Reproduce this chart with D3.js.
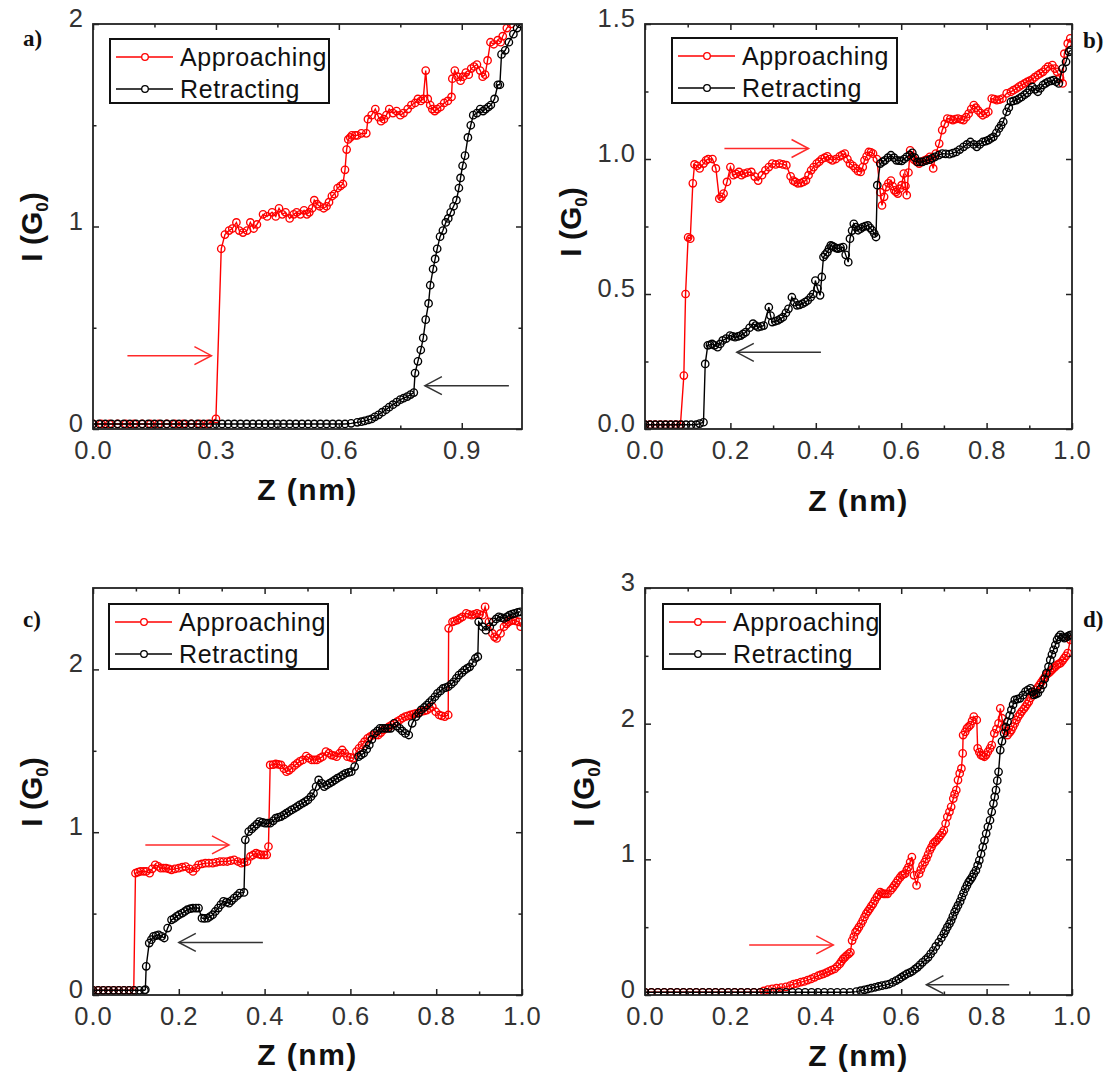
<!DOCTYPE html>
<html>
<head>
<meta charset="utf-8">
<script src="https://cdn.jsdelivr.net/npm/d3@7"></script>
<style>
  body { margin: 0; background: #fff; }
  svg text { font-family: "Liberation Sans", Arial, sans-serif; }
  svg text.panel-letter { font-family: "Liberation Serif", "Times New Roman", serif; }
</style>
</head>
<body>
<svg id="fig" width="1115" height="1079"></svg>
<script>
// ---------------- data: Z (nm), I (G0) ----------------
// panel a
const aApproach = [[0,0.025],[0.02,0.025],[0.04,0.025],[0.06,0.025],[0.08,0.025],[0.10,0.025],[0.12,0.025],[0.14,0.025],[0.16,0.025],[0.18,0.025],[0.20,0.025],[0.22,0.025],[0.24,0.025],[0.26,0.025],[0.28,0.025],[0.30,0.05],[0.313,0.89],[0.322,0.96],[0.332,0.98],[0.34,0.99],[0.35,1.02],[0.357,0.98],[0.366,0.97],[0.376,0.98],[0.384,1.02],[0.392,0.99],[0.40,1.01],[0.415,1.06],[0.425,1.05],[0.437,1.07],[0.446,1.05],[0.454,1.09],[0.462,1.06],[0.47,1.07],[0.48,1.04],[0.49,1.06],[0.497,1.07],[0.506,1.06],[0.515,1.08],[0.522,1.06],[0.528,1.07],[0.535,1.09],[0.54,1.13],[0.547,1.11],[0.553,1.10],[0.563,1.09],[0.57,1.10],[0.576,1.12],[0.583,1.15],[0.589,1.16],[0.597,1.19],[0.604,1.20],[0.61,1.21],[0.615,1.28],[0.619,1.38],[0.623,1.43],[0.628,1.44],[0.632,1.45],[0.64,1.45],[0.645,1.45],[0.655,1.46],[0.667,1.46],[0.671,1.53],[0.68,1.55],[0.689,1.58],[0.697,1.54],[0.703,1.52],[0.71,1.53],[0.716,1.55],[0.723,1.58],[0.732,1.56],[0.741,1.57],[0.75,1.55],[0.758,1.56],[0.768,1.58],[0.777,1.60],[0.786,1.61],[0.793,1.63],[0.80,1.62],[0.806,1.63],[0.812,1.77],[0.817,1.63],[0.823,1.60],[0.828,1.58],[0.834,1.57],[0.84,1.58],[0.848,1.59],[0.857,1.61],[0.866,1.62],[0.875,1.64],[0.877,1.73],[0.883,1.77],[0.89,1.74],[0.897,1.72],[0.903,1.74],[0.91,1.76],[0.917,1.75],[0.923,1.78],[0.93,1.79],[0.937,1.80],[0.945,1.77],[0.951,1.74],[0.957,1.75],[0.963,1.82],[0.97,1.91],[0.978,1.90],[0.988,1.92],[0.995,1.91],[1.0,1.94],[1.01,1.98],[1.02,2.0]];
const aRetract = [[0,0.025],[0.015,0.025],[0.03,0.025],[0.045,0.025],[0.06,0.025],[0.075,0.025],[0.09,0.025],[0.105,0.025],[0.12,0.025],[0.135,0.025],[0.15,0.025],[0.165,0.025],[0.18,0.025],[0.195,0.025],[0.21,0.025],[0.225,0.025],[0.24,0.025],[0.255,0.025],[0.27,0.025],[0.285,0.025],[0.30,0.025],[0.315,0.025],[0.33,0.025],[0.345,0.025],[0.36,0.025],[0.375,0.025],[0.39,0.025],[0.405,0.025],[0.42,0.025],[0.435,0.025],[0.45,0.025],[0.465,0.025],[0.48,0.025],[0.495,0.025],[0.51,0.025],[0.525,0.025],[0.54,0.025],[0.555,0.025],[0.57,0.025],[0.585,0.025],[0.60,0.025],[0.615,0.025],[0.63,0.028],[0.645,0.033],[0.655,0.036],[0.663,0.04],[0.672,0.045],[0.68,0.05],[0.688,0.06],[0.697,0.07],[0.706,0.083],[0.715,0.095],[0.723,0.108],[0.732,0.12],[0.741,0.133],[0.75,0.145],[0.758,0.152],[0.767,0.16],[0.775,0.17],[0.783,0.18],[0.786,0.276],[0.793,0.334],[0.80,0.39],[0.806,0.45],[0.812,0.54],[0.819,0.62],[0.823,0.71],[0.83,0.79],[0.835,0.84],[0.84,0.89],[0.847,0.95],[0.854,0.98],[0.861,1.02],[0.867,1.04],[0.873,1.07],[0.88,1.10],[0.887,1.13],[0.893,1.19],[0.897,1.24],[0.902,1.30],[0.908,1.35],[0.915,1.44],[0.922,1.50],[0.928,1.55],[0.937,1.56],[0.945,1.58],[0.952,1.57],[0.958,1.58],[0.965,1.59],[0.971,1.60],[0.98,1.63],[0.988,1.70],[0.993,1.70],[0.997,1.85],[1.006,1.87],[1.015,1.91],[1.026,1.95],[1.035,1.98],[1.042,2.0]];

// panel b
const bApproach = [[0,0.016],[0.012,0.016],[0.024,0.016],[0.036,0.016],[0.048,0.016],[0.06,0.016],[0.072,0.016],[0.083,0.016],[0.091,0.198],[0.095,0.50],[0.101,0.71],[0.106,0.705],[0.112,0.91],[0.116,0.98],[0.122,0.975],[0.128,0.965],[0.137,0.983],[0.143,0.995],[0.148,1.0],[0.158,1.0],[0.166,0.965],[0.174,0.853],[0.179,0.86],[0.184,0.872],[0.192,0.915],[0.20,0.97],[0.207,0.94],[0.213,0.945],[0.22,0.952],[0.226,0.94],[0.232,0.946],[0.24,0.95],[0.249,0.952],[0.257,0.935],[0.265,0.92],[0.274,0.94],[0.282,0.958],[0.29,0.97],[0.298,0.983],[0.306,0.98],[0.315,0.983],[0.323,0.98],[0.331,0.977],[0.341,0.936],[0.347,0.92],[0.352,0.915],[0.358,0.91],[0.365,0.911],[0.371,0.915],[0.377,0.921],[0.383,0.94],[0.389,0.958],[0.395,0.97],[0.402,0.983],[0.408,0.99],[0.414,1.0],[0.421,1.005],[0.427,1.01],[0.433,1.0],[0.439,0.995],[0.447,1.0],[0.456,1.01],[0.462,1.015],[0.468,1.02],[0.474,1.0],[0.48,0.983],[0.487,0.975],[0.493,0.965],[0.499,0.955],[0.505,0.952],[0.51,0.97],[0.514,0.995],[0.519,1.01],[0.524,1.026],[0.529,1.025],[0.534,1.02],[0.543,1.0],[0.551,0.877],[0.555,0.828],[0.56,0.86],[0.565,0.896],[0.57,0.91],[0.576,0.92],[0.58,0.9],[0.584,0.884],[0.588,0.878],[0.592,0.872],[0.597,0.89],[0.601,0.903],[0.606,0.946],[0.61,0.9],[0.613,0.866],[0.617,0.95],[0.621,1.032],[0.626,1.01],[0.63,0.998],[0.636,0.99],[0.642,0.983],[0.648,0.99],[0.655,0.995],[0.661,1.0],[0.667,1.008],[0.675,0.965],[0.681,1.02],[0.689,1.057],[0.696,1.107],[0.702,1.13],[0.708,1.15],[0.715,1.148],[0.721,1.144],[0.727,1.148],[0.733,1.15],[0.74,1.147],[0.746,1.144],[0.752,1.155],[0.758,1.168],[0.764,1.185],[0.77,1.20],[0.775,1.19],[0.78,1.18],[0.786,1.17],[0.791,1.162],[0.798,1.168],[0.804,1.175],[0.812,1.224],[0.818,1.222],[0.824,1.218],[0.83,1.22],[0.837,1.224],[0.847,1.243],[0.857,1.249],[0.863,1.255],[0.87,1.261],[0.876,1.268],[0.882,1.274],[0.889,1.28],[0.895,1.286],[0.901,1.29],[0.907,1.295],[0.913,1.303],[0.92,1.311],[0.926,1.317],[0.932,1.323],[0.938,1.333],[0.944,1.342],[0.954,1.348],[0.96,1.335],[0.965,1.323],[0.972,1.3],[0.978,1.28],[0.982,1.39],[0.99,1.428],[0.996,1.447]];
const bRetract = [[0,0.016],[0.012,0.016],[0.024,0.016],[0.036,0.016],[0.048,0.016],[0.06,0.016],[0.072,0.016],[0.084,0.016],[0.096,0.016],[0.108,0.016],[0.12,0.016],[0.128,0.02],[0.137,0.025],[0.141,0.241],[0.147,0.31],[0.152,0.312],[0.157,0.315],[0.163,0.31],[0.17,0.303],[0.176,0.315],[0.182,0.328],[0.19,0.335],[0.199,0.346],[0.205,0.343],[0.211,0.34],[0.218,0.343],[0.224,0.346],[0.23,0.352],[0.236,0.359],[0.245,0.375],[0.253,0.39],[0.259,0.383],[0.265,0.377],[0.272,0.38],[0.278,0.383],[0.29,0.451],[0.294,0.42],[0.298,0.396],[0.305,0.399],[0.311,0.402],[0.317,0.408],[0.323,0.414],[0.33,0.43],[0.336,0.445],[0.344,0.488],[0.35,0.47],[0.356,0.458],[0.362,0.46],[0.369,0.464],[0.375,0.47],[0.381,0.476],[0.388,0.488],[0.394,0.50],[0.399,0.55],[0.404,0.52],[0.41,0.495],[0.414,0.563],[0.418,0.637],[0.422,0.646],[0.427,0.655],[0.431,0.668],[0.435,0.68],[0.439,0.677],[0.443,0.674],[0.448,0.67],[0.452,0.668],[0.458,0.671],[0.464,0.674],[0.47,0.645],[0.476,0.618],[0.48,0.705],[0.485,0.735],[0.489,0.76],[0.494,0.748],[0.499,0.736],[0.505,0.742],[0.51,0.748],[0.516,0.751],[0.522,0.754],[0.527,0.745],[0.532,0.736],[0.537,0.724],[0.541,0.711],[0.544,0.903],[0.551,0.983],[0.557,0.99],[0.562,0.995],[0.569,1.005],[0.576,1.014],[0.583,1.005],[0.589,0.995],[0.595,0.994],[0.601,0.993],[0.607,1.0],[0.613,1.008],[0.62,1.015],[0.626,1.023],[0.632,1.005],[0.638,0.989],[0.644,0.989],[0.65,0.989],[0.658,0.994],[0.667,0.998],[0.673,1.003],[0.679,1.008],[0.688,1.014],[0.696,1.02],[0.704,1.019],[0.713,1.018],[0.721,1.022],[0.729,1.026],[0.737,1.035],[0.746,1.045],[0.754,1.054],[0.762,1.063],[0.77,1.054],[0.777,1.045],[0.784,1.054],[0.791,1.063],[0.798,1.066],[0.804,1.07],[0.81,1.076],[0.816,1.082],[0.823,1.097],[0.829,1.113],[0.834,1.125],[0.839,1.138],[0.847,1.175],[0.852,1.19],[0.857,1.212],[0.863,1.215],[0.87,1.218],[0.876,1.224],[0.882,1.23],[0.889,1.238],[0.895,1.245],[0.901,1.256],[0.907,1.267],[0.914,1.258],[0.92,1.249],[0.926,1.262],[0.932,1.274],[0.938,1.28],[0.944,1.286],[0.951,1.289],[0.957,1.292],[0.963,1.286],[0.969,1.28],[0.978,1.335],[0.986,1.36],[0.993,1.397],[0.997,1.403]];

// panel c
const cApproach = [[0,0.029],[0.012,0.029],[0.024,0.029],[0.036,0.029],[0.048,0.029],[0.06,0.029],[0.072,0.029],[0.084,0.029],[0.095,0.029],[0.099,0.748],[0.105,0.755],[0.111,0.759],[0.118,0.76],[0.124,0.759],[0.132,0.748],[0.138,0.775],[0.145,0.80],[0.152,0.79],[0.158,0.779],[0.164,0.78],[0.17,0.779],[0.177,0.775],[0.183,0.769],[0.191,0.775],[0.2,0.779],[0.208,0.785],[0.216,0.789],[0.225,0.775],[0.233,0.759],[0.24,0.78],[0.246,0.80],[0.254,0.805],[0.262,0.81],[0.27,0.81],[0.279,0.81],[0.287,0.815],[0.296,0.82],[0.304,0.82],[0.313,0.82],[0.321,0.825],[0.329,0.83],[0.338,0.82],[0.346,0.81],[0.352,0.815],[0.359,0.82],[0.367,0.851],[0.373,0.86],[0.38,0.871],[0.386,0.865],[0.392,0.861],[0.399,0.86],[0.405,0.861],[0.409,0.912],[0.413,1.413],[0.42,1.415],[0.426,1.419],[0.432,1.416],[0.438,1.413],[0.445,1.39],[0.451,1.372],[0.457,1.38],[0.463,1.393],[0.47,1.41],[0.476,1.423],[0.482,1.435],[0.489,1.444],[0.497,1.468],[0.503,1.455],[0.51,1.444],[0.516,1.444],[0.522,1.444],[0.529,1.455],[0.535,1.464],[0.543,1.495],[0.55,1.485],[0.556,1.474],[0.562,1.47],[0.568,1.464],[0.575,1.485],[0.581,1.505],[0.587,1.485],[0.593,1.464],[0.6,1.46],[0.606,1.454],[0.614,1.495],[0.62,1.515],[0.627,1.536],[0.633,1.556],[0.64,1.577],[0.646,1.587],[0.652,1.597],[0.659,1.597],[0.665,1.597],[0.671,1.612],[0.677,1.628],[0.684,1.638],[0.69,1.648],[0.696,1.658],[0.702,1.669],[0.709,1.679],[0.715,1.689],[0.721,1.7],[0.728,1.71],[0.734,1.715],[0.74,1.72],[0.747,1.725],[0.753,1.73],[0.759,1.735],[0.765,1.74],[0.772,1.745],[0.778,1.75],[0.785,1.76],[0.791,1.771],[0.799,1.74],[0.807,1.72],[0.813,1.715],[0.82,1.71],[0.828,1.72],[0.829,2.252],[0.838,2.292],[0.843,2.298],[0.849,2.303],[0.855,2.313],[0.861,2.323],[0.87,2.344],[0.876,2.338],[0.883,2.333],[0.889,2.338],[0.895,2.344],[0.901,2.338],[0.908,2.333],[0.914,2.384],[0.923,2.292],[0.931,2.221],[0.936,2.2],[0.941,2.19],[0.95,2.221],[0.958,2.262],[0.964,2.28],[0.969,2.292],[0.974,2.298],[0.979,2.303],[0.985,2.298],[0.992,2.292],[0.997,2.262]];
const cRetract = [[0,0.029],[0.012,0.029],[0.024,0.029],[0.036,0.029],[0.048,0.029],[0.06,0.029],[0.072,0.029],[0.084,0.029],[0.096,0.029],[0.108,0.029],[0.12,0.029],[0.122,0.033],[0.124,0.176],[0.131,0.319],[0.136,0.34],[0.141,0.36],[0.147,0.365],[0.153,0.37],[0.16,0.36],[0.166,0.35],[0.174,0.411],[0.183,0.462],[0.189,0.47],[0.195,0.483],[0.201,0.493],[0.208,0.503],[0.214,0.513],[0.22,0.524],[0.227,0.53],[0.233,0.534],[0.24,0.534],[0.246,0.534],[0.254,0.472],[0.26,0.47],[0.267,0.472],[0.273,0.482],[0.279,0.493],[0.285,0.513],[0.292,0.534],[0.298,0.555],[0.304,0.575],[0.311,0.57],[0.317,0.564],[0.323,0.58],[0.329,0.595],[0.336,0.61],[0.342,0.626],[0.352,0.63],[0.355,0.953],[0.363,1.004],[0.37,1.02],[0.376,1.035],[0.382,1.05],[0.388,1.065],[0.395,1.06],[0.401,1.055],[0.407,1.055],[0.413,1.055],[0.42,1.07],[0.426,1.086],[0.432,1.091],[0.438,1.096],[0.445,1.106],[0.451,1.117],[0.457,1.127],[0.463,1.137],[0.47,1.147],[0.476,1.157],[0.482,1.168],[0.489,1.178],[0.495,1.188],[0.501,1.198],[0.508,1.218],[0.514,1.239],[0.52,1.28],[0.526,1.321],[0.533,1.3],[0.539,1.28],[0.545,1.29],[0.552,1.301],[0.558,1.311],[0.564,1.321],[0.57,1.332],[0.577,1.342],[0.583,1.352],[0.589,1.362],[0.596,1.367],[0.602,1.372],[0.61,1.403],[0.619,1.464],[0.625,1.475],[0.631,1.485],[0.638,1.51],[0.644,1.536],[0.65,1.57],[0.656,1.607],[0.663,1.622],[0.669,1.638],[0.675,1.638],[0.681,1.638],[0.688,1.638],[0.694,1.638],[0.702,1.669],[0.708,1.652],[0.715,1.638],[0.721,1.622],[0.728,1.607],[0.736,1.597],[0.744,1.669],[0.753,1.71],[0.759,1.73],[0.765,1.751],[0.772,1.766],[0.778,1.781],[0.784,1.796],[0.79,1.812],[0.797,1.832],[0.803,1.853],[0.81,1.868],[0.816,1.883],[0.822,1.888],[0.828,1.894],[0.835,1.909],[0.841,1.924],[0.847,1.945],[0.853,1.965],[0.86,1.98],[0.866,1.996],[0.872,2.006],[0.878,2.016],[0.885,2.04],[0.891,2.067],[0.897,2.078],[0.899,2.292],[0.908,2.262],[0.916,2.241],[0.925,2.262],[0.933,2.292],[0.94,2.31],[0.946,2.323],[0.952,2.318],[0.958,2.313],[0.965,2.323],[0.971,2.333],[0.977,2.34],[0.983,2.344],[0.99,2.35],[0.996,2.354]];

// panel d
const dApproach = [[0,0.02],[0.015,0.02],[0.03,0.02],[0.045,0.02],[0.06,0.02],[0.075,0.02],[0.09,0.02],[0.105,0.02],[0.12,0.02],[0.135,0.02],[0.15,0.02],[0.165,0.02],[0.18,0.02],[0.195,0.02],[0.21,0.02],[0.225,0.02],[0.24,0.02],[0.255,0.02],[0.27,0.02],[0.278,0.03],[0.288,0.04],[0.298,0.045],[0.308,0.05],[0.319,0.055],[0.33,0.06],[0.34,0.07],[0.348,0.08],[0.356,0.085],[0.365,0.095],[0.373,0.1],[0.381,0.11],[0.389,0.118],[0.397,0.13],[0.406,0.143],[0.412,0.15],[0.418,0.155],[0.425,0.165],[0.431,0.175],[0.437,0.184],[0.444,0.192],[0.45,0.21],[0.456,0.229],[0.46,0.248],[0.464,0.266],[0.468,0.278],[0.472,0.291],[0.477,0.303],[0.481,0.315],[0.485,0.401],[0.489,0.43],[0.493,0.463],[0.497,0.48],[0.501,0.50],[0.506,0.525],[0.51,0.549],[0.514,0.575],[0.518,0.599],[0.522,0.617],[0.526,0.635],[0.53,0.655],[0.534,0.672],[0.538,0.695],[0.543,0.722],[0.547,0.74],[0.551,0.759],[0.555,0.75],[0.559,0.746],[0.563,0.746],[0.568,0.746],[0.575,0.771],[0.58,0.79],[0.584,0.808],[0.588,0.825],[0.592,0.845],[0.597,0.865],[0.601,0.882],[0.605,0.888],[0.609,0.894],[0.613,0.92],[0.617,0.943],[0.621,0.98],[0.625,1.017],[0.63,0.882],[0.636,0.808],[0.642,0.894],[0.646,0.925],[0.65,0.956],[0.655,0.98],[0.659,1.005],[0.663,1.035],[0.667,1.067],[0.671,1.09],[0.675,1.116],[0.679,1.128],[0.683,1.14],[0.688,1.16],[0.692,1.177],[0.696,1.195],[0.70,1.214],[0.704,1.264],[0.708,1.313],[0.713,1.35],[0.717,1.387],[0.722,1.448],[0.725,1.48],[0.729,1.51],[0.733,1.584],[0.737,1.633],[0.741,1.67],[0.744,1.781],[0.745,1.916],[0.75,1.94],[0.754,1.966],[0.758,1.978],[0.762,1.99],[0.766,2.02],[0.77,2.052],[0.777,2.027],[0.779,1.818],[0.783,1.79],[0.787,1.768],[0.791,1.762],[0.795,1.756],[0.799,1.77],[0.803,1.793],[0.808,1.818],[0.812,1.842],[0.818,1.929],[0.823,1.96],[0.828,2.002],[0.832,2.113],[0.836,2.04],[0.841,1.978],[0.845,1.945],[0.849,1.916],[0.854,1.935],[0.858,1.953],[0.862,1.978],[0.866,2.002],[0.87,2.027],[0.874,2.052],[0.878,2.07],[0.882,2.089],[0.887,2.108],[0.891,2.126],[0.895,2.145],[0.899,2.163],[0.903,2.19],[0.907,2.212],[0.911,2.23],[0.915,2.249],[0.92,2.268],[0.924,2.286],[0.928,2.305],[0.932,2.323],[0.936,2.342],[0.94,2.36],[0.945,2.372],[0.949,2.384],[0.953,2.397],[0.957,2.409],[0.961,2.421],[0.965,2.433],[0.969,2.44],[0.973,2.446],[0.978,2.465],[0.982,2.483],[0.986,2.5],[0.99,2.52],[0.996,2.618]];
const dRetract = [[0,0.02],[0.015,0.02],[0.03,0.02],[0.045,0.02],[0.06,0.02],[0.075,0.02],[0.09,0.02],[0.105,0.02],[0.12,0.02],[0.135,0.02],[0.15,0.02],[0.165,0.02],[0.18,0.02],[0.195,0.02],[0.21,0.02],[0.225,0.02],[0.24,0.02],[0.255,0.02],[0.27,0.02],[0.285,0.02],[0.30,0.02],[0.315,0.02],[0.33,0.02],[0.345,0.02],[0.36,0.02],[0.375,0.02],[0.39,0.02],[0.405,0.02],[0.42,0.02],[0.435,0.02],[0.45,0.02],[0.465,0.02],[0.48,0.02],[0.495,0.025],[0.505,0.032],[0.514,0.038],[0.522,0.044],[0.53,0.05],[0.539,0.057],[0.547,0.063],[0.555,0.069],[0.564,0.075],[0.572,0.081],[0.58,0.093],[0.588,0.106],[0.595,0.118],[0.601,0.131],[0.607,0.143],[0.613,0.155],[0.62,0.165],[0.626,0.175],[0.632,0.19],[0.638,0.204],[0.644,0.222],[0.65,0.241],[0.657,0.26],[0.663,0.278],[0.669,0.303],[0.675,0.328],[0.681,0.358],[0.688,0.389],[0.694,0.42],[0.70,0.451],[0.704,0.475],[0.708,0.50],[0.713,0.525],[0.717,0.549],[0.721,0.58],[0.725,0.611],[0.729,0.635],[0.733,0.66],[0.738,0.69],[0.742,0.722],[0.746,0.752],[0.75,0.783],[0.754,0.808],[0.758,0.833],[0.762,0.85],[0.766,0.869],[0.77,0.894],[0.775,0.919],[0.779,0.955],[0.783,0.993],[0.787,1.04],[0.791,1.091],[0.795,1.14],[0.799,1.19],[0.803,1.24],[0.808,1.288],[0.812,1.35],[0.816,1.411],[0.819,1.46],[0.822,1.51],[0.825,1.58],[0.828,1.645],[0.832,1.805],[0.836,1.87],[0.841,1.929],[0.845,1.975],[0.849,2.015],[0.854,2.06],[0.858,2.101],[0.862,2.14],[0.866,2.175],[0.872,2.18],[0.878,2.187],[0.885,2.21],[0.891,2.236],[0.897,2.25],[0.903,2.261],[0.907,2.235],[0.911,2.212],[0.915,2.218],[0.92,2.224],[0.926,2.255],[0.932,2.286],[0.936,2.33],[0.94,2.372],[0.945,2.42],[0.949,2.47],[0.953,2.51],[0.957,2.544],[0.961,2.58],[0.965,2.618],[0.969,2.64],[0.973,2.655],[0.978,2.64],[0.982,2.63],[0.986,2.636],[0.99,2.643],[0.994,2.65],[0.998,2.655]];

// ticks
const aZTicks = [0, 0.3, 0.6, 0.9];
const aZMinor = [0.15, 0.45, 0.75];
const aITicks = [0, 1, 2];
const aIMinor = [0.5, 1.5];
const zTicks = [0, 0.2, 0.4, 0.6, 0.8, 1.0];
const zMinor = [0.1, 0.3, 0.5, 0.7, 0.9];
const bITicks = [0, 0.5, 1.0, 1.5];
const bIMinor = [0.25, 0.75, 1.25];
const cITicks = [0, 1, 2];
const cIMinor = [0.5, 1.5];
const dITicks = [0, 1, 2, 3];
const dIMinor = [0.5, 1.5, 2.5];

const seriesNames = ["Approaching", "Retracting"];
const seriesColors = ["#ff0000", "#000000"];

// ---------------- layout ----------------
const panels = [
  { key: "a", box: [93, 24, 522, 429], zDom: [0, 1.047], iDom: [0, 2],
    zT: aZTicks, zM: aZMinor, iT: aITicks, iM: aIMinor, zFmt: ".1f", iFmt: "d",
    series: [aApproach, aRetract],
    legend: [110, 39, 219, 64], label: [23, 46],
    zTitleY: 500, iTitle: [42, 227],
    arrows: [{ from: [0.084, 0.362], to: [0.289, 0.362], color: "#ff2a2a" },
             { from: [1.015, 0.214], to: [0.81, 0.214], color: "#333" }] },
  { key: "b", box: [645, 24, 1072, 429], zDom: [0, 1], iDom: [0, 1.5],
    zT: zTicks, zM: zMinor, iT: bITicks, iM: bIMinor, zFmt: ".1f", iFmt: ".1f",
    series: [bApproach, bRetract],
    legend: [672, 38, 225, 65], label: [1083, 48],
    zTitleY: 511, iTitle: [581, 222],
    arrows: [{ from: [0.186, 1.039], to: [0.383, 1.039], color: "#ff2a2a" },
             { from: [0.412, 0.284], to: [0.215, 0.284], color: "#333" }] },
  { key: "c", box: [93, 588, 522, 995], zDom: [0, 1], iDom: [0, 2.5],
    zT: zTicks, zM: zMinor, iT: cITicks, iM: cIMinor, zFmt: ".1f", iFmt: "d",
    series: [cApproach, cRetract],
    legend: [109, 604, 219, 65], label: [23, 627],
    zTitleY: 1065, iTitle: [42, 792],
    arrows: [{ from: [0.122, 0.922], to: [0.317, 0.922], color: "#ff2a2a" },
             { from: [0.396, 0.323], to: [0.2, 0.323], color: "#333" }] },
  { key: "d", box: [645, 588, 1072, 995], zDom: [0, 1], iDom: [0, 3],
    zT: zTicks, zM: zMinor, iT: dITicks, iM: dIMinor, zFmt: ".1f", iFmt: "d",
    series: [dApproach, dRetract],
    legend: [663, 604, 217, 65], label: [1083, 627],
    zTitleY: 1066, iTitle: [594, 792],
    arrows: [{ from: [0.244, 0.369], to: [0.441, 0.369], color: "#ff2a2a" },
             { from: [0.853, 0.076], to: [0.659, 0.076], color: "#333" }] }
];

const svg = d3.select("#fig");
const defs = svg.append("defs");

panels.forEach(p => {
  const [L, T, R, B] = p.box;
  const x = d3.scaleLinear().domain(p.zDom).range([L, R]);
  const y = d3.scaleLinear().domain(p.iDom).range([B, T]);
  const g = svg.append("g").attr("class", "panel-" + p.key);

  defs.append("clipPath").attr("id", "clip-" + p.key)
    .append("rect").attr("x", L).attr("y", T).attr("width", R - L).attr("height", B - T);

  // curves: approach first, retract drawn over it
  const plot = g.append("g").attr("clip-path", `url(#clip-${p.key})`);
  const line = d3.line().x(d => x(d[0])).y(d => y(d[1]));
  p.series.forEach((data, k) => {
    const s = plot.append("g");
    s.append("path").datum(data).attr("d", line)
      .attr("fill", "none").attr("stroke", seriesColors[k]).attr("stroke-width", 1.4);
    s.selectAll("circle").data(data).join("circle")
      .attr("cx", d => x(d[0])).attr("cy", d => y(d[1])).attr("r", 3.7)
      .attr("fill", "none").attr("stroke", seriesColors[k]).attr("stroke-width", 1.35);
  });

  // axes with inward ticks on all four sides
  const styleAxis = sel => {
    sel.select(".domain").remove();
    sel.selectAll(".tick line").attr("stroke", "#222").attr("stroke-width", 1.5);
    sel.selectAll(".tick text").attr("fill", "#333").attr("font-size", 25.5)
      .style("letter-spacing", "1px");
  };
  g.append("g").attr("transform", `translate(0,${B})`)
    .call(d3.axisBottom(x).tickValues(p.zT).tickSize(-6).tickPadding(12).tickFormat(d3.format(p.zFmt)))
    .call(styleAxis);
  g.append("g").attr("transform", `translate(0,${B})`)
    .call(d3.axisBottom(x).tickValues(p.zM).tickSize(-3.5).tickFormat(""))
    .call(styleAxis);
  g.append("g").attr("transform", `translate(0,${T})`)
    .call(d3.axisTop(x).tickValues(p.zT).tickSize(-6).tickFormat(""))
    .call(styleAxis);
  g.append("g").attr("transform", `translate(0,${T})`)
    .call(d3.axisTop(x).tickValues(p.zM).tickSize(-3.5).tickFormat(""))
    .call(styleAxis);
  g.append("g").attr("transform", `translate(${L},0)`)
    .call(d3.axisLeft(y).tickValues(p.iT).tickSize(-6).tickPadding(9).tickFormat(d3.format(p.iFmt)))
    .call(styleAxis)
    .call(sel => sel.selectAll(".tick text").attr("dy", "0.1em"));
  g.append("g").attr("transform", `translate(${L},0)`)
    .call(d3.axisLeft(y).tickValues(p.iM).tickSize(-3.5).tickFormat(""))
    .call(styleAxis);
  g.append("g").attr("transform", `translate(${R},0)`)
    .call(d3.axisRight(y).tickValues(p.iT).tickSize(-6).tickFormat(""))
    .call(styleAxis);
  g.append("g").attr("transform", `translate(${R},0)`)
    .call(d3.axisRight(y).tickValues(p.iM).tickSize(-3.5).tickFormat(""))
    .call(styleAxis);

  // frame
  g.append("rect").attr("x", L).attr("y", T).attr("width", R - L).attr("height", B - T)
    .attr("fill", "none").attr("stroke", "#222").attr("stroke-width", 1.8);

  // direction arrows
  p.arrows.forEach(a => {
    const x1 = x(a.from[0]), x2 = x(a.to[0]), yy = y(a.from[1]);
    const dir = Math.sign(x2 - x1);
    g.append("line").attr("x1", x1).attr("x2", x2).attr("y1", yy).attr("y2", yy)
      .attr("stroke", a.color).attr("stroke-width", 1.5);
    g.append("polyline")
      .attr("points", `${x2 - dir * 17},${yy - 9} ${x2},${yy} ${x2 - dir * 17},${yy + 9}`)
      .attr("fill", "none").attr("stroke", a.color).attr("stroke-width", 1.5);
  });

  // legend
  const [lx, ly, lw, lh] = p.legend;
  const lg = g.append("g");
  lg.append("rect").attr("x", lx).attr("y", ly).attr("width", lw).attr("height", lh)
    .attr("fill", "#fff").attr("stroke", "#111").attr("stroke-width", 2);
  seriesNames.forEach((name, k) => {
    const yy = ly + 18 + k * 32;
    lg.append("line").attr("x1", lx + 6).attr("x2", lx + 63).attr("y1", yy).attr("y2", yy)
      .attr("stroke", seriesColors[k]).attr("stroke-width", 1.5);
    lg.append("circle").attr("cx", lx + 35).attr("cy", yy).attr("r", 3.3)
      .attr("fill", "#fff").attr("stroke", seriesColors[k]).attr("stroke-width", 1.3);
    lg.append("text").attr("x", lx + 70).attr("y", yy + 9).text(name)
      .attr("font-size", 25).attr("fill", "#111").style("letter-spacing", "0.6px");
  });

  // axis titles
  g.append("text").attr("x", (L + R) / 2).attr("y", p.zTitleY).attr("text-anchor", "middle")
    .attr("font-size", 30).attr("font-weight", "bold").attr("fill", "#111")
    .style("letter-spacing", "1.5px").text("Z (nm)");
  const it = g.append("text")
    .attr("transform", `translate(${p.iTitle[0]},${p.iTitle[1]}) rotate(-90)`)
    .attr("text-anchor", "middle").attr("font-size", 30).attr("font-weight", "bold").attr("fill", "#111");
  it.append("tspan").text("I (G");
  it.append("tspan").attr("font-size", 17).attr("dy", 6).text("0");
  it.append("tspan").attr("dy", -6).text(")");

  // panel letter
  g.append("text").attr("class", "panel-letter").attr("x", p.label[0]).attr("y", p.label[1])
    .attr("font-weight", "bold").attr("font-size", 23).attr("fill", "#111")
    .text(p.key + ")");
});
</script>
</body>
</html>
